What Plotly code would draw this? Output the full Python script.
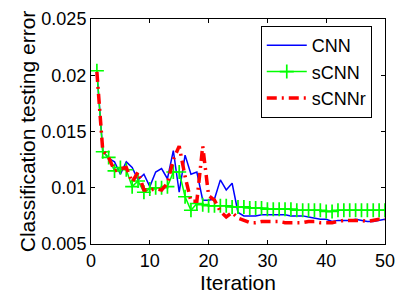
import plotly.graph_objects as go

iterations = list(range(1, 51))

cnn = [0.0203, 0.0133, 0.0126, 0.0123, 0.0112, 0.0123, 0.0118, 0.0107, 0.0112, 0.0101,
       0.0114, 0.0117, 0.0108, 0.0133, 0.0096, 0.0129, 0.0112, 0.0114, 0.0089, 0.0089,
       0.0090, 0.0107, 0.0098, 0.0104, 0.0078, 0.0075, 0.0075, 0.0075, 0.0076, 0.0076,
       0.0076, 0.0076, 0.0076, 0.0075, 0.0075, 0.0075, 0.0074, 0.0073, 0.0072, 0.0072,
       0.0070, 0.0071, 0.0071, 0.0071, 0.0072, 0.0071, 0.0070, 0.0070, 0.0071, 0.0072]

scnn = [0.0204, 0.0132, 0.0127, 0.0115, 0.0118, 0.0116, 0.0101, 0.0106, 0.0096, 0.0099,
        0.0100, 0.0100, 0.0101, 0.0114, 0.0114, 0.0092, 0.0080, 0.0086, 0.0085, 0.0084,
        0.0084, 0.0084, 0.0084, 0.0083, 0.0083, 0.0083, 0.0082, 0.0082, 0.0082, 0.0081,
        0.0081, 0.0081, 0.0081, 0.0081, 0.0080, 0.0080, 0.0080, 0.0080, 0.0080, 0.0079,
        0.0079, 0.0080, 0.0080, 0.0080, 0.0080, 0.0080, 0.0080, 0.0080, 0.0080, 0.0080]

scnnr = [0.0203, 0.0133, 0.0127, 0.0115, 0.0117, 0.0118, 0.0105, 0.0114, 0.0098, 0.0098,
         0.0099, 0.0098, 0.0104, 0.0125, 0.0137, 0.0110, 0.0088, 0.0088, 0.0137, 0.0093,
         0.0089, 0.0079, 0.0074, 0.0078, 0.0073, 0.0071, 0.0069, 0.0069, 0.0070, 0.0070,
         0.0070, 0.0070, 0.0069, 0.0069, 0.0069, 0.0069, 0.0070, 0.0070, 0.0069, 0.0069,
         0.0069, 0.0070, 0.0071, 0.0071, 0.0071, 0.0071, 0.0070, 0.0071, 0.0072, 0.0072]

x_ticks = [0, 10, 20, 30, 40, 50]
y_ticks = [0.005, 0.01, 0.015, 0.02, 0.025]
y_tick_labels = ["0.005", "0.01", "0.015", "0.02", "0.025"]

FONT = "Liberation Sans, Arial"

fig = go.Figure()
fig.add_trace(go.Scatter(x=iterations, y=cnn, name="CNN", mode="lines",
                         line=dict(color="#0000ff", width=1.5)))
fig.add_trace(go.Scatter(x=iterations, y=scnn, name="sCNN", mode="lines+markers",
                         line=dict(color="#00ff00", width=1.5),
                         marker=dict(symbol="cross-thin", size=10,
                                     line=dict(color="#00ff00", width=1.7))))
fig.add_trace(go.Scatter(x=iterations, y=scnnr, name="sCNNr", mode="lines",
                         line=dict(color="#ff0000", width=3.5, dash="10px,5px,2px,5px")))

axis_common = dict(showline=True, linecolor="black", linewidth=1, mirror="allticks",
                   ticks="inside", ticklen=4, tickcolor="black", showgrid=False,
                   zeroline=False, automargin=False,
                   tickfont=dict(family=FONT, size=18, color="black"))

fig.update_layout(
    width=398, height=296,
    margin=dict(l=91, r=13, t=19, b=52),
    paper_bgcolor="white", plot_bgcolor="white",
    font=dict(family=FONT, color="black"),
    xaxis=dict(range=[0, 50], tickvals=x_ticks,
               title=dict(text="Iteration", font=dict(size=21), standoff=0), **axis_common),
    yaxis=dict(range=[0.005, 0.025], tickvals=y_ticks, ticktext=y_tick_labels,
               title=dict(text="Classification testing error", font=dict(size=21), standoff=0),
               **axis_common),
    legend=dict(x=0.955, y=0.969, xanchor="right", yanchor="top",
                bgcolor="white", bordercolor="black", borderwidth=1,
                font=dict(size=18, color="black"), tracegroupgap=0, itemwidth=40),
    showlegend=True,
)

fig.write_html("out.html",
               config={"displayModeBar": False},
               post_script="document.body.style.margin='0px';document.body.style.overflow='hidden';")
